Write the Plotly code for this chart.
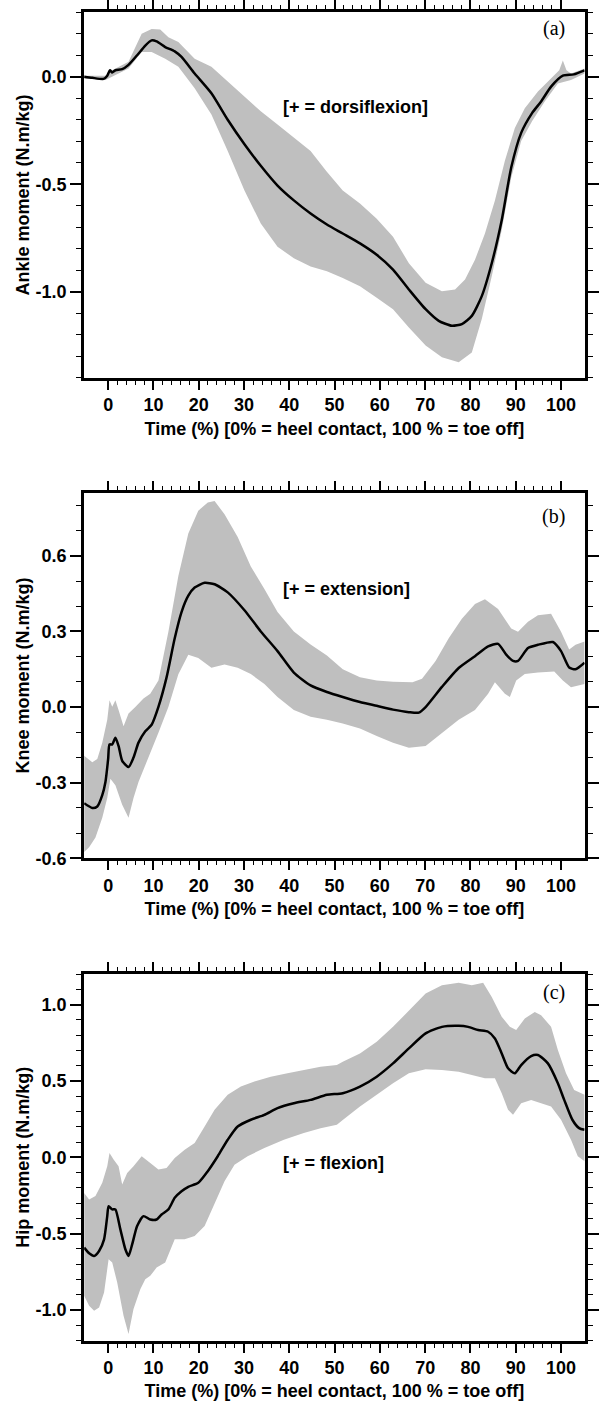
import plotly.graph_objects as go

# ---- data ----
# (a) ankle
ankle_x_mean = [-5.3, -3.5, -1.0, -0.2, 0.4, 0.9, 1.6, 3.1, 4.5, 6.4, 8.2, 9.6, 10.7, 12.6, 14.7, 16.2,
                19.1, 22.8, 26.4, 30.1, 33.7, 37.4, 41.0, 44.7, 48.3, 51.8, 55.6, 59.3, 62.9, 66.4, 70.1,
                73.0, 75.9, 78.1, 80.3, 82.5, 84.7, 86.9, 89.0, 91.2, 93.6, 95.6, 97.8, 100.4, 102.8, 105.2]
ankle_mean = [0.0, -0.005, -0.01, 0.005, 0.03, 0.02, 0.03, 0.035, 0.055, 0.10, 0.145, 0.169, 0.164, 0.138,
              0.118, 0.092, 0.015, -0.077, -0.20, -0.314, -0.414, -0.506, -0.575, -0.636, -0.687, -0.729,
              -0.775, -0.828, -0.897, -0.989, -1.081, -1.135, -1.158, -1.150, -1.112, -1.02, -0.867, -0.667,
              -0.422, -0.261, -0.169, -0.115, -0.046, 0.005, 0.011, 0.03]
ankle_x_up = [-5.3, -0.6, 0.9, 4.5, 7.4, 9.6, 11.5, 13.3, 15.5, 19.1, 22.8, 26.4, 30.1, 33.7, 37.4, 41.0,
              44.7, 48.2, 51.8, 55.6, 59.3, 62.9, 66.4, 70.1, 73.7, 76.6, 78.8, 81.0, 83.2, 85.4, 87.6,
              89.8, 92.0, 94.9, 97.8, 99.6, 100.4, 101.2, 102.2, 105.2]
ankle_up = [0.005, 0.005, 0.03, 0.07, 0.20, 0.222, 0.22, 0.184, 0.161, 0.084, 0.046, -0.023, -0.092, -0.161,
            -0.222, -0.284, -0.345, -0.44, -0.529, -0.590, -0.660, -0.744, -0.867, -0.958, -0.997, -0.989,
            -0.943, -0.851, -0.729, -0.575, -0.391, -0.238, -0.146, -0.069, -0.008, 0.03, 0.075, 0.03,
            0.015, 0.038]
ankle_x_lo = [-5.3, -0.6, 4.5, 7.4, 9.6, 12.6, 15.5, 19.1, 22.8, 26.4, 30.1, 33.7, 37.4, 41.0, 44.7, 48.3,
              51.8, 55.6, 59.3, 62.9, 66.4, 70.1, 73.7, 77.4, 80.3, 82.5, 84.7, 86.9, 89.0, 91.2, 93.6,
              96.4, 99.3, 102.2, 105.2]
ankle_lo = [-0.008, -0.015, 0.038, 0.115, 0.115, 0.084, 0.046, -0.054, -0.176, -0.345, -0.529, -0.683,
            -0.790, -0.844, -0.882, -0.905, -0.936, -0.974, -1.028, -1.081, -1.166, -1.25, -1.304, -1.327,
            -1.282, -1.127, -0.928, -0.713, -0.468, -0.299, -0.207, -0.115, -0.031, -0.015, 0.015]

# (b) knee
knee_x_mean = [-5.3, -3.5, -2.4, -1.3, -0.6, 0.0, 0.3, 0.9, 1.6, 2.3, 3.1, 4.5, 5.6, 6.7, 8.2, 9.6, 11.1,
               12.9, 14.7, 16.2, 17.7, 19.1, 21.3, 23.5, 26.4, 30.1, 33.7, 37.4, 41.0, 44.7, 48.3, 51.8,
               55.6, 59.3, 62.9, 66.4, 68.6, 70.1, 73.7, 77.4, 81.0, 83.9, 86.1, 87.9, 89.4, 90.5, 92.7,
               94.9, 98.2, 100.0, 101.8, 103.2, 105.2]
knee_mean = [-0.381, -0.40, -0.394, -0.349, -0.297, -0.206, -0.148, -0.148, -0.122, -0.154, -0.213, -0.238,
             -0.20, -0.141, -0.096, -0.070, 0.001, 0.118, 0.273, 0.377, 0.442, 0.474, 0.493, 0.487, 0.455,
             0.384, 0.30, 0.222, 0.137, 0.086, 0.06, 0.04, 0.02, 0.005, -0.01, -0.02, -0.022, 0.0, 0.08,
             0.155, 0.202, 0.241, 0.251, 0.208, 0.183, 0.183, 0.234, 0.247, 0.258, 0.222, 0.157, 0.150, 0.176]
knee_x_up = [-5.3, -3.5, -2.4, -1.3, -0.2, 0.3, 0.9, 1.6, 2.3, 3.4, 4.5, 6.0, 7.8, 9.3, 11.1, 13.3, 15.5,
             17.7, 19.9, 22.0, 23.5, 25.7, 28.6, 31.5, 34.5, 37.4, 41.0, 44.7, 48.3, 51.8, 55.6, 59.3, 62.9,
             67.2, 69.3, 72.3, 75.2, 78.1, 81.0, 83.2, 86.1, 89.0, 90.5, 92.7, 94.9, 97.8, 100.0, 101.8,
             103.2, 105.2]
knee_up = [-0.193, -0.219, -0.206, -0.141, -0.05, 0.027, 0.001, 0.027, -0.012, -0.076, -0.025, 0.0, 0.034,
           0.053, 0.105, 0.299, 0.52, 0.688, 0.779, 0.811, 0.817, 0.765, 0.675, 0.558, 0.468, 0.377, 0.30,
           0.248, 0.205, 0.15, 0.118, 0.105, 0.101, 0.099, 0.112, 0.183, 0.273, 0.350, 0.409, 0.428, 0.389,
           0.312, 0.299, 0.338, 0.364, 0.370, 0.299, 0.228, 0.247, 0.260]
knee_x_lo = [-5.3, -4.2, -2.8, -1.3, -0.2, 0.5, 1.6, 3.1, 4.5, 5.6, 6.7, 8.2, 9.6, 11.1, 13.3, 15.5, 17.7,
             19.9, 22.8, 25.7, 28.6, 31.5, 34.5, 37.4, 41.0, 44.7, 48.3, 51.8, 55.6, 59.3, 62.9, 66.4, 70.1,
             73.7, 77.4, 81.0, 83.9, 85.4, 87.6, 88.7, 90.1, 92.0, 94.9, 98.5, 100.4, 102.2, 105.2]
knee_lo = [-0.575, -0.556, -0.517, -0.439, -0.361, -0.284, -0.31, -0.387, -0.439, -0.361, -0.297, -0.232,
           -0.167, -0.102, 0.0, 0.13, 0.208, 0.195, 0.156, 0.169, 0.156, 0.131, 0.092, 0.04, -0.012, -0.038,
           -0.05, -0.065, -0.085, -0.115, -0.141, -0.161, -0.154, -0.102, -0.05, -0.012, 0.053, 0.099, 0.053,
           0.04, 0.105, 0.131, 0.137, 0.141, 0.105, 0.079, 0.092]

# (c) hip
hip_x_mean = [-5.3, -4.2, -3.1, -2.0, -0.9, -0.2, 0.1, 0.9, 1.6, 2.7, 3.8, 4.5, 5.3, 6.4, 7.8, 9.3, 10.7,
              11.8, 13.3, 14.7, 16.2, 17.7, 19.9, 22.0, 24.2, 26.4, 28.6, 31.5, 34.5, 37.4, 41.0, 44.7, 48.3,
              51.8, 55.6, 59.3, 62.9, 66.4, 70.1, 73.7, 77.4, 79.5, 81.7, 83.9, 85.4, 86.9, 88.3, 89.8, 91.2,
              93.4, 94.9, 97.1, 99.3, 100.7, 102.5, 104.0, 105.2]
hip_mean = [-0.591, -0.628, -0.646, -0.613, -0.537, -0.385, -0.32, -0.341, -0.341, -0.472, -0.602, -0.646,
            -0.57, -0.45, -0.385, -0.407, -0.407, -0.374, -0.341, -0.265, -0.222, -0.193, -0.167, -0.091,
            0.007, 0.115, 0.202, 0.246, 0.278, 0.322, 0.354, 0.376, 0.409, 0.42, 0.463, 0.528, 0.615, 0.713,
            0.811, 0.854, 0.861, 0.854, 0.833, 0.822, 0.778, 0.680, 0.583, 0.55, 0.604, 0.663, 0.67, 0.615,
            0.485, 0.376, 0.246, 0.191, 0.18]
hip_x_up = [-5.3, -4.2, -2.8, -1.3, -0.2, 0.3, 1.2, 2.3, 3.1, 4.2, 5.6, 7.4, 9.3, 11.1, 12.9, 14.7, 16.9,
            19.1, 21.3, 23.5, 26.4, 29.3, 32.3, 35.9, 39.6, 43.2, 46.9, 50.5, 51.8, 55.6, 59.3, 62.9, 66.4,
            70.1, 73.7, 77.4, 80.3, 82.8, 84.7, 86.9, 88.7, 90.1, 92.0, 94.2, 95.6, 97.8, 99.3, 101.1, 102.9,
            105.2]
hip_up = [-0.233, -0.276, -0.254, -0.167, -0.059, 0.028, -0.015, -0.059, -0.178, -0.102, -0.059, 0.007,
          -0.037, -0.08, -0.07, -0.004, 0.05, 0.093, 0.202, 0.311, 0.409, 0.463, 0.496, 0.528, 0.55, 0.572,
          0.593, 0.604, 0.626, 0.68, 0.757, 0.854, 0.963, 1.072, 1.126, 1.143, 1.126, 1.143, 1.05, 0.92,
          0.854, 0.833, 0.909, 0.952, 0.93, 0.854, 0.702, 0.55, 0.441, 0.409]
hip_x_lo = [-5.3, -4.2, -3.1, -2.0, -0.9, 0.1, 0.9, 2.0, 3.4, 4.5, 5.6, 7.1, 8.2, 9.3, 10.7, 12.6, 14.7,
            16.9, 19.1, 21.3, 23.5, 25.7, 27.9, 30.8, 34.5, 38.8, 43.2, 46.9, 50.5, 51.8, 55.6, 59.3, 62.9,
            66.4, 70.1, 73.7, 77.4, 80.3, 83.2, 85.4, 86.9, 88.3, 89.4, 91.2, 93.4, 95.6, 97.8, 100.0, 102.2,
            103.7, 105.2]
hip_lo = [-0.907, -0.972, -1.004, -0.983, -0.885, -0.667, -0.689, -0.82, -1.037, -1.157, -0.993, -0.863,
          -0.798, -0.776, -0.722, -0.689, -0.537, -0.537, -0.515, -0.45, -0.298, -0.157, -0.048, 0.007,
          0.061, 0.115, 0.159, 0.191, 0.213, 0.245, 0.333, 0.409, 0.485, 0.55, 0.576, 0.572, 0.561, 0.539,
          0.517, 0.517, 0.42, 0.311, 0.278, 0.354, 0.376, 0.354, 0.333, 0.246, 0.115, 0.007, -0.026]

# ticks / labels
x_ticks = [0, 10, 20, 30, 40, 50, 60, 70, 80, 90, 100]
x_minor = [v for v in range(2, 100, 2) if v % 10]
ankle_yticks = [0.0, -0.5, -1.0]
ankle_ylabels = ["0.0", "-0.5", "-1.0"]
knee_yticks = [0.6, 0.3, 0.0, -0.3, -0.6]
knee_ylabels = ["0.6", "0.3", "0.0", "-0.3", "-0.6"]
hip_yticks = [1.0, 0.5, 0.0, -0.5, -1.0]
hip_ylabels = ["1.0", "0.5", "0.0", "-0.5", "-1.0"]

x_title = "Time (%) [0% = heel contact, 100 % = toe off]"

W, H = 599, 1418
BOLD = dict(family="Liberation Sans, Arial, sans-serif", size=18, color="black", weight="bold")

panels = [
    dict(xm=ankle_x_mean, m=ankle_mean, xu=ankle_x_up, u=ankle_up, xl=ankle_x_lo, l=ankle_lo,
         yr=[-1.4, 0.3], yt=ankle_yticks, yl=ankle_ylabels, ytitle="Ankle moment (N.m/kg)",
         note="[+ = dorsiflexion]", note_y=-0.143, tag="(a)", tag_y=0.225, top=9.3, bot=378.3),
    dict(xm=knee_x_mean, m=knee_mean, xu=knee_x_up, u=knee_up, xl=knee_x_lo, l=knee_lo,
         yr=[-0.6, 0.85], yt=knee_yticks, yl=knee_ylabels, ytitle="Knee moment (N.m/kg)",
         note="[+ = extension]", note_y=0.47, tag="(b)", tag_y=0.755, top=494.3, bot=863.3),
    dict(xm=hip_x_mean, m=hip_mean, xu=hip_x_up, u=hip_up, xl=hip_x_lo, l=hip_lo,
         yr=[-1.2, 1.2], yt=hip_yticks, yl=hip_ylabels, ytitle="Hip moment (N.m/kg)",
         note="[+ = flexion]", note_y=-0.04, tag="(c)", tag_y=1.08, top=980.0, bot=1350.0),
]

fig = go.Figure()
layout = {}
annotations = []

for i, p in enumerate(panels, start=1):
    sfx = "" if i == 1 else str(i)
    xa, ya = "x" + sfx, "y" + sfx

    # shaded band: upper edge forward, lower edge backward
    fig.add_trace(go.Scatter(
        x=p["xu"] + p["xl"][::-1], y=p["u"] + p["l"][::-1],
        fill="toself", fillcolor="#bfbfbf", line=dict(width=0),
        mode="lines", hoverinfo="skip", showlegend=False, xaxis=xa, yaxis=ya))
    # mean curve
    fig.add_trace(go.Scatter(
        x=p["xm"], y=p["m"], mode="lines",
        line=dict(color="black", width=2.5, shape="spline", smoothing=0.6),
        showlegend=False, xaxis=xa, yaxis=ya))

    ydom = [1 - p["bot"] / H, 1 - p["top"] / H]
    layout["xaxis" + sfx] = dict(
        domain=[85 / W, 590.5 / W], range=[-5.3, 105.2], anchor=ya,
        tickmode="array", tickvals=x_ticks, ticks="outside", ticklen=9, tickwidth=1.5,
        tickcolor="black", ticklabelstandoff=0,
        minor=dict(tickmode="array", tickvals=x_minor, ticks="outside", ticklen=4,
                   tickwidth=1, tickcolor="black"),
        showline=True, linewidth=3, linecolor="black", mirror="allticks",
        showgrid=False, zeroline=False, tickfont=BOLD,
        title=dict(text=x_title, font=BOLD, standoff=8))
    layout["yaxis" + sfx] = dict(
        domain=ydom, range=p["yr"], anchor=xa,
        tickmode="array", tickvals=p["yt"], ticktext=p["yl"],
        ticks="outside", ticklen=11, tickwidth=1.5, tickcolor="black",
        minor=dict(dtick=0.1, ticks="outside", ticklen=5, tickwidth=1, tickcolor="black"),
        showline=True, linewidth=3, linecolor="black", mirror="allticks",
        showgrid=False, zeroline=False, tickfont=BOLD,
        title=dict(text=p["ytitle"], font=BOLD, standoff=2))

    annotations.append(dict(
        x=38.1, y=p["note_y"], xref=xa, yref=ya, text=p["note"], showarrow=False,
        xanchor="left", yanchor="middle", font=BOLD))
    annotations.append(dict(
        x=98.4, y=p["tag_y"], xref=xa, yref=ya, text=p["tag"], showarrow=False,
        xanchor="center", yanchor="middle",
        font=dict(family="Liberation Serif, Times New Roman, serif", size=20, color="black")))

fig.update_layout(
    width=W, height=H,
    margin=dict(l=0, r=0, t=0, b=0),
    plot_bgcolor="white", paper_bgcolor="white",
    annotations=annotations,
    **layout)

# drop the default page margin so the figure sits at the window origin
fig.write_html("out.html", config={"displayModeBar": False},
               post_script="document.body.style.margin='0px';")
